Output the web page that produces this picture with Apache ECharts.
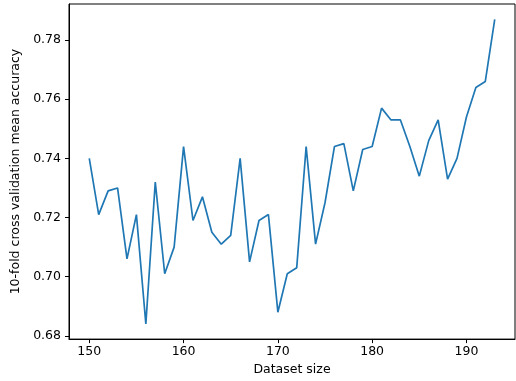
<!DOCTYPE html>
<html>
<head>
<meta charset="utf-8">
<script src="https://cdn.jsdelivr.net/npm/echarts@6/dist/echarts.min.js"></script>
<style>
  html, body { margin: 0; padding: 0; background: #fff; }
  #chart { width: 516px; height: 381px; }
</style>
</head>
<body>
<div id="chart"></div>
<script>
// dataset sizes (x) and 10-fold CV mean accuracy (y)
const datasetSize = [150, 151, 152, 153, 154, 155, 156, 157, 158, 159,
  160, 161, 162, 163, 164, 165, 166, 167, 168, 169,
  170, 171, 172, 173, 174, 175, 176, 177, 178, 179,
  180, 181, 182, 183, 184, 185, 186, 187, 188, 189,
  190, 191, 192, 193]
const meanAccuracy = [0.740, 0.721, 0.729, 0.730, 0.706, 0.721, 0.684, 0.732, 0.701, 0.710,
  0.744, 0.719, 0.727, 0.715, 0.711, 0.714, 0.740, 0.705, 0.719, 0.721,
  0.688, 0.701, 0.703, 0.744, 0.711, 0.725, 0.744, 0.745, 0.729, 0.743,
  0.744, 0.757, 0.753, 0.753, 0.744, 0.734, 0.746, 0.753, 0.733, 0.740,
  0.754, 0.764, 0.766, 0.787]
const xTicks = [150, 160, 170, 180, 190]
const yTicks = [0.68, 0.70, 0.72, 0.74, 0.76, 0.78]

const chart = echarts.init(document.getElementById('chart'))

const fontFamily = 'DejaVu Sans'
const fontSize = 12.5

chart.setOption({
  animation: false,
  grid: {
    left: 69,
    right: 1,
    top: 4,
    bottom: 41,
    show: true,
    borderColor: '#000',
    borderWidth: 1
  },
  xAxis: {
    type: 'value',
    min: 147.85,
    max: 195.15,
    name: 'Dataset size',
    nameLocation: 'middle',
    nameGap: 23,
    nameTextStyle: { color: '#000', fontFamily: fontFamily, fontSize: fontSize },
    axisLine: { show: true, onZero: false, lineStyle: { color: '#000', width: 1 } },
    axisTick: { show: true, length: 4, customValues: xTicks, lineStyle: { color: '#000' } },
    axisLabel: {
      customValues: xTicks,
      margin: 6,
      color: '#000',
      fontFamily: fontFamily,
      fontSize: fontSize
    },
    splitLine: { show: false }
  },
  yAxis: {
    type: 'value',
    min: 0.6789,
    max: 0.7922,
    name: '10-fold cross validation mean accuracy',
    nameLocation: 'middle',
    nameGap: 40,
    nameTextStyle: { color: '#000', fontFamily: fontFamily, fontSize: fontSize },
    axisLine: { show: true, onZero: false, lineStyle: { color: '#000', width: 1 } },
    axisTick: { show: true, length: 4, customValues: yTicks, lineStyle: { color: '#000' } },
    axisLabel: {
      customValues: yTicks,
      margin: 8,
      color: '#000',
      fontFamily: fontFamily,
      fontSize: fontSize,
      formatter: v => v.toFixed(2)
    },
    splitLine: { show: false }
  },
  series: [
    {
      type: 'line',
      data: datasetSize.map((x, i) => [x, meanAccuracy[i]]),
      showSymbol: false,
      lineStyle: { color: '#1f77b4', width: 1.7 },
      itemStyle: { color: '#1f77b4' }
    }
  ]
})
</script>
</body>
</html>
